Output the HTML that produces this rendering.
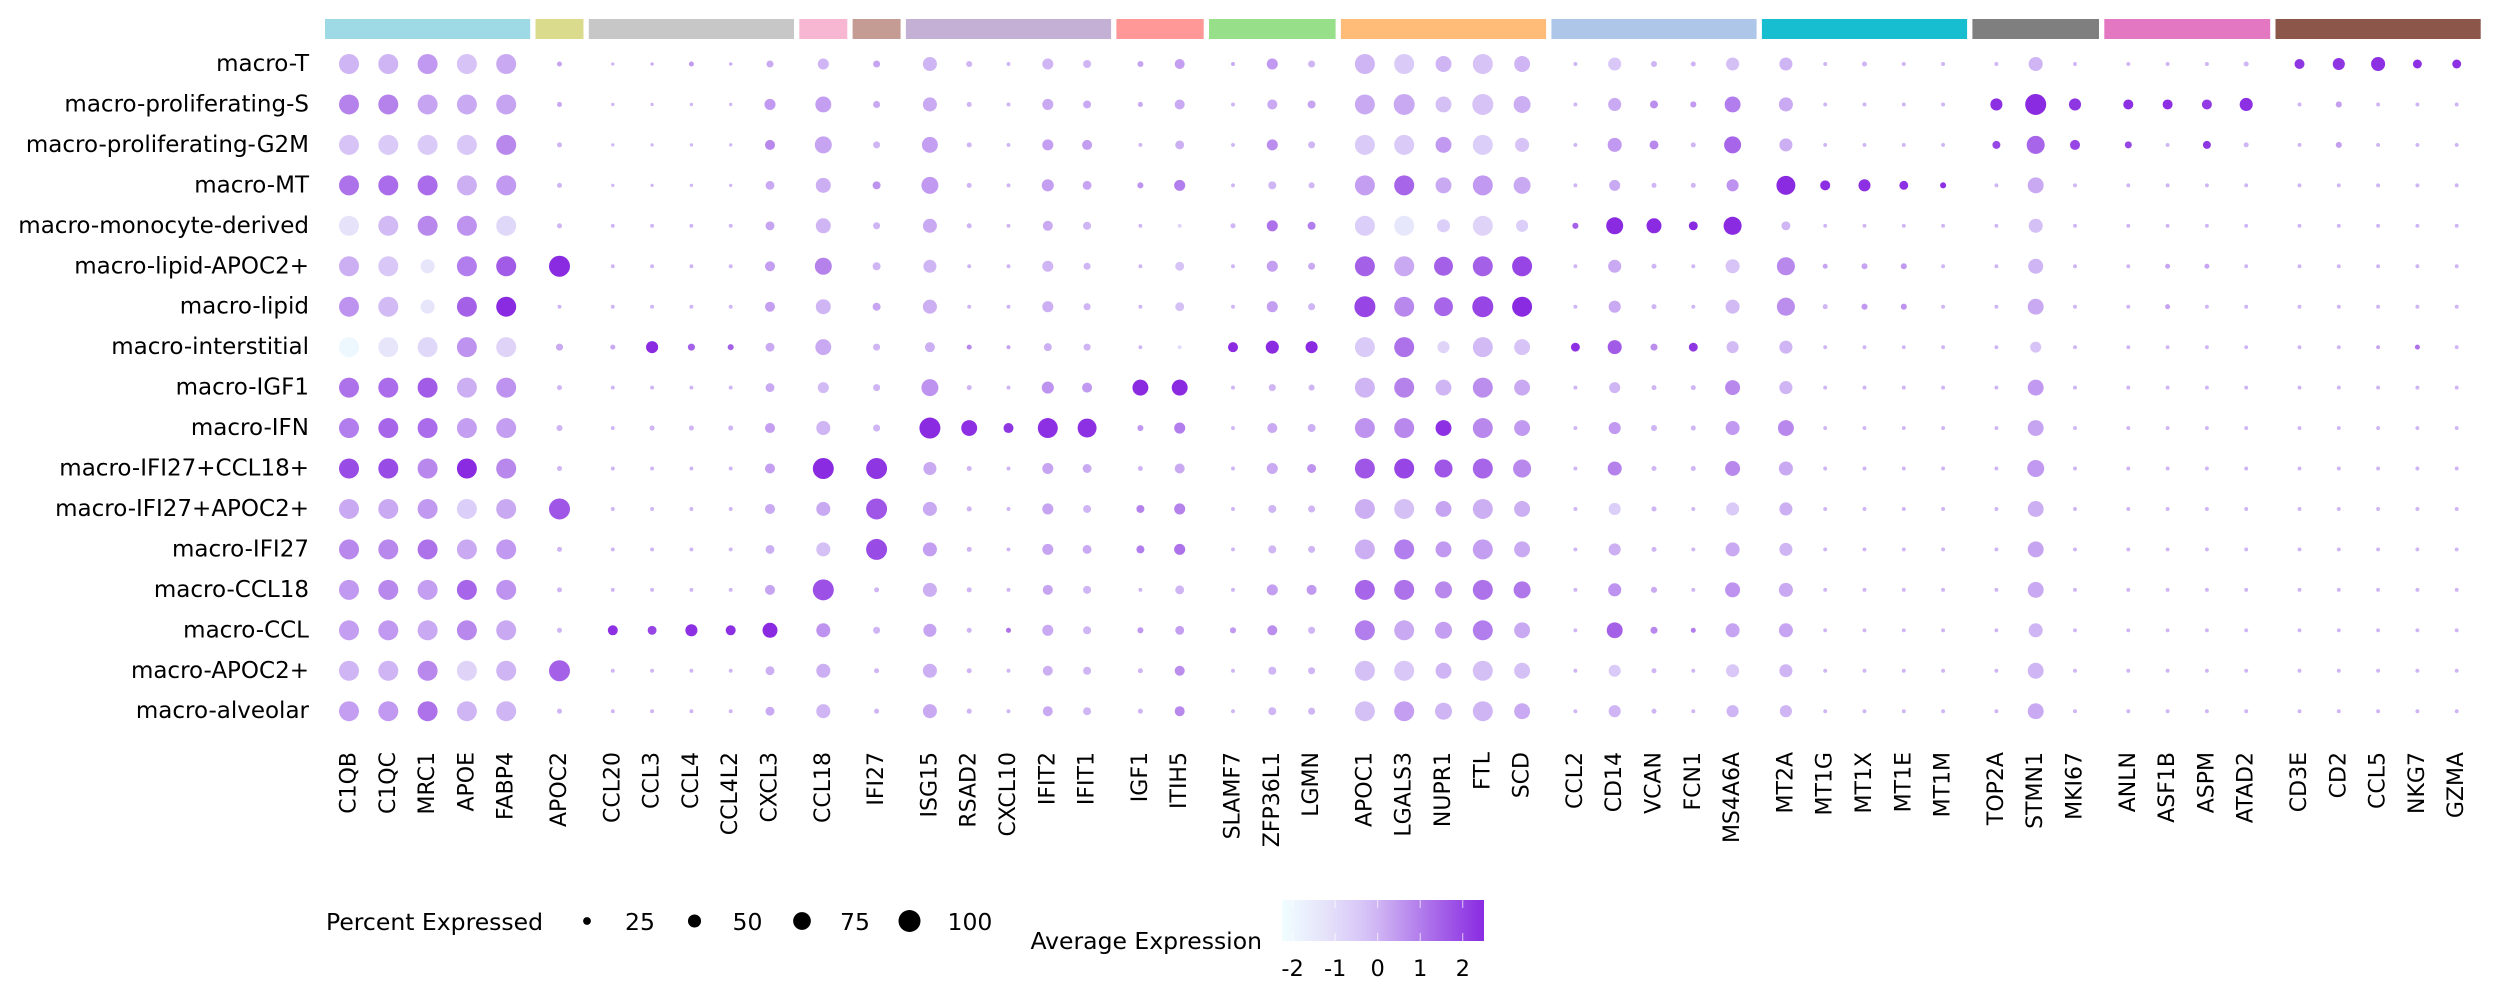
<!DOCTYPE html>
<html><head><meta charset="utf-8"><title>Dot plot</title>
<style>
html,body{margin:0;padding:0;background:#fff;}
svg{display:block;font-family:"DejaVu Sans","Liberation Sans",sans-serif;}
</style></head>
<body>
<svg id="chart" width="2496" height="998" viewBox="0 0 2496 998" xmlns="http://www.w3.org/2000/svg"></svg>
<script>
const rowLabels = ["macro-T","macro-proliferating-S","macro-proliferating-G2M","macro-MT","macro-monocyte-derived","macro-lipid-APOC2+","macro-lipid","macro-interstitial","macro-IGF1","macro-IFN","macro-IFI27+CCL18+","macro-IFI27+APOC2+","macro-IFI27","macro-CCL18","macro-CCL","macro-APOC2+","macro-alveolar"];
const groupGenes = [
 ["C1QB","C1QC","MRC1","APOE","FABP4"],["APOC2"],["CCL20","CCL3","CCL4","CCL4L2","CXCL3"],["CCL18"],["IFI27"],
 ["ISG15","RSAD2","CXCL10","IFIT2","IFIT1"],["IGF1","ITIH5"],["SLAMF7","ZFP36L1","LGMN"],["APOC1","LGALS3","NUPR1","FTL","SCD"],
 ["CCL2","CD14","VCAN","FCN1","MS4A6A"],["MT2A","MT1G","MT1X","MT1E","MT1M"],["TOP2A","STMN1","MKI67"],["ANLN","ASF1B","ASPM","ATAD2"],["CD3E","CD2","CCL5","NKG7","GZMA"]];
const groupColors = ["#9edae5","#dbdb8d","#c7c7c7","#f7b6d2","#c49c94","#c5b0d5","#ff9896","#98df8a","#ffbb78","#aec7e8","#17becf","#7f7f7f","#e377c2","#8c564b"];
const pctValues = [
[88,88,88,88,88,14,8,8,14,8,22,40,22,55,18,10,40,26,18,35,10,40,22,88,88,65,88,65,10,50,18,14,50,50,10,14,10,10,10,55,10,10,10,10,14,35,45,55,30,30],
[88,88,88,88,88,14,8,8,8,8,40,65,22,55,14,10,40,26,14,35,10,35,26,88,94,65,94,71,10,50,26,18,65,55,10,10,10,10,45,94,45,35,35,35,50,10,18,10,10,10],
[88,88,88,88,88,14,8,8,8,8,35,71,22,65,14,10,40,35,10,30,10,40,22,88,88,65,88,55,10,55,30,14,71,50,10,10,10,10,26,77,35,22,10,26,14,10,18,10,10,10],
[88,88,88,88,88,14,8,8,8,8,30,60,26,71,14,10,45,30,18,40,10,26,18,88,88,65,88,71,10,40,14,14,45,82,35,45,30,18,10,65,10,10,10,10,10,10,10,10,10,10],
[88,88,88,88,88,14,10,10,10,10,30,60,22,55,14,10,35,26,10,10,14,40,26,88,88,50,88,45,18,71,60,30,77,30,10,10,10,10,10,55,10,10,10,10,10,10,10,10,10,10],
[88,88,55,88,88,94,10,10,10,10,35,71,26,50,10,10,40,22,10,30,10,40,22,88,88,82,88,88,10,50,14,10,55,77,14,18,18,10,10,60,10,10,14,14,10,10,10,10,10,10],
[88,88,55,88,88,10,10,10,10,10,35,60,26,55,10,10,40,22,10,30,10,40,22,94,88,82,94,88,10,45,14,10,55,77,14,18,18,10,10,65,10,10,14,10,10,10,10,10,10,10],
[88,88,88,88,88,22,14,45,22,18,30,65,22,35,14,10,26,22,10,10,35,50,45,88,88,45,88,65,30,55,22,30,45,50,10,10,10,10,10,40,10,10,10,10,10,10,10,10,14,10],
[88,88,88,88,88,14,10,10,10,10,30,40,22,71,14,10,45,35,65,65,10,22,18,88,88,65,88,65,10,40,14,14,60,50,10,10,10,10,10,65,10,10,10,10,10,10,10,10,10,10],
[88,88,88,88,88,18,10,14,14,14,35,55,22,94,65,35,88,82,18,40,10,35,26,88,88,65,88,65,10,45,18,14,55,65,10,10,10,10,10,65,10,10,10,10,10,10,10,10,10,10],
[88,88,88,88,88,14,10,10,10,10,35,94,94,50,14,10,40,30,14,35,10,40,30,88,88,77,88,77,10,55,14,14,60,55,10,10,10,10,10,71,10,10,10,10,10,10,10,10,10,10],
[88,88,88,88,88,94,10,10,10,10,35,55,94,55,14,10,40,26,26,40,10,26,22,88,88,65,88,65,10,45,14,10,50,50,10,10,10,10,10,65,10,10,10,10,10,10,10,10,10,10],
[88,88,88,88,88,14,10,10,10,10,30,55,94,55,14,10,40,30,26,40,10,26,22,88,88,65,88,65,10,45,14,10,55,50,10,10,10,10,10,65,10,10,10,10,10,10,10,10,10,10],
[88,88,88,88,88,14,10,10,10,10,35,94,14,55,14,10,35,26,10,30,10,40,35,88,88,71,88,71,10,50,18,10,60,55,10,10,10,10,10,65,10,10,10,10,10,10,10,10,10,10],
[88,88,88,88,88,14,35,30,45,35,60,55,22,50,14,14,40,26,18,30,18,35,22,88,88,71,88,65,10,65,22,14,55,55,10,10,10,10,10,55,10,10,10,10,10,10,10,10,10,10],
[88,88,88,88,88,94,10,10,10,10,30,55,14,55,14,10,35,26,14,35,10,26,22,88,88,65,88,65,10,45,14,10,50,50,10,10,10,10,10,65,10,10,10,10,10,10,10,10,10,10],
[88,88,88,88,88,14,10,10,10,10,30,55,14,55,14,10,35,26,14,35,10,26,22,88,88,71,88,65,10,45,14,10,45,45,10,10,10,10,10,65,10,10,10,10,10,10,10,10,10,10]];
const exprValues = [
[0,0,0.5,-0.3,0.2,0.3,0,0.2,0.5,0.2,0.2,0,0.3,0,0,0,0,0,0.3,0.4,0.2,0.5,0,0,-0.5,0,-0.3,0,0,-0.4,0,0,-0.2,0,0,0,0,0,0,0,0,0,0,0,0,2.3,2.3,2.4,2.4,2.4],
[0.9,0.9,0.3,0.2,0.3,0.2,0,0,0,0,0.5,0.4,0.2,0.2,0,0,0.2,0.2,0.2,0.2,0,0.2,0.3,0.2,0.2,-0.2,-0.3,0.1,0,0.2,0.7,0.5,1.0,0.2,0,0,0,0,2.4,2.5,2.3,2.4,2.4,2.2,2.4,0,0.4,0,0,0],
[-0.3,-0.5,-0.5,-0.4,0.8,0,0,0,0,0,0.8,0.3,0,0.4,0,0,0.4,0.4,0,0.1,0,0.7,0,-0.5,-0.5,0.5,-0.6,-0.3,0,0.5,0.8,0,1.4,0.1,0,0,0,0,2.0,1.4,2.0,2.0,0,2.3,0,0,0.4,0,0,0],
[1.2,1.3,1.3,0.1,0.5,0,0,0,0,0,0.2,0.1,0.6,0.5,0,0,0.4,0.3,0.6,1.0,0,0,0,0.4,1.4,0.2,0.5,0.2,0,0.2,0,0,0.6,2.5,2.4,2.4,2.4,2.4,0,0.2,0,0,0,0,0,0,0,0,0,0],
[-1.2,-0.1,0.8,0.6,-0.9,0,0,0,0,0,0.3,0,0,0.2,0,0,0.2,0,0,-0.8,0,1.2,1.0,-0.6,-1.4,-0.6,-0.8,-0.6,1.5,2.5,2.5,2.5,2.5,0,0,0,0,0,0,-0.2,0,0,0,0,0,0,0,0,0,0],
[0.1,-0.4,-1.3,1.0,1.6,2.5,0,0,0,0,0.4,0.9,0,0,0,0,0,0,0,-0.3,0,0.4,0.2,1.5,0.2,1.5,1.5,2.0,0,0.2,0,0,-0.3,0.8,0.3,0.3,0.5,0,0,0,0,0,0.3,0.3,0,0,0,0,0,0],
[0.6,-0.1,-1.3,1.5,2.5,0,0,0,0,0,0.4,0,0.3,0.1,0,0,0.1,0,0,-0.2,0,0.4,0,2.0,0.8,1.4,2.0,2.5,0,0.2,0,0,-0.1,0.7,0,0.5,0.6,0,0,0.2,0,0,0.3,0,0,0,0,0,0,0],
[-2.0,-1.3,-0.9,0.6,-0.8,0.2,0.2,2.5,1.5,1.5,0.2,0.2,0,0.1,0.8,0.4,0.1,0,0,-1.0,2.5,2.5,2.5,-0.5,1.2,-0.8,-0.1,-0.3,2.4,1.6,0.7,2.3,-0.1,0,0,0,0,0,0,-0.3,0,0,0,0,0,0,0,0.3,1.2,0],
[1.2,1.3,1.6,0.1,0.6,0,0,0,0,0,0.2,-0.1,0,0.6,0,0,0.6,0.5,2.5,2.5,0,0,0,0,0.9,0,0.7,0.2,0,0,0,0,0.8,0,0,0,0,0,0,0.5,0,0,0,0,0,0,0,0,0,0],
[1.0,1.4,1.3,0.4,0.4,0,0,0,0,0,0.4,0,0,2.5,2.4,2.3,2.4,2.4,0.5,1.0,0,0.2,0.1,0.6,0.8,2.4,0.8,0.5,0,0.5,0,0,0.5,0.8,0,0,0,0,0,0.3,0,0,0,0,0,0,0,0,0,0],
[1.9,1.9,0.8,2.5,0.8,0,0,0,0,0,0.4,2.5,2.3,0.2,0,0,0.3,0.2,0,0.2,0,0.2,0.6,1.7,2.0,1.7,1.4,0.8,0,0.9,0,0,0.8,0.2,0,0,0,0,0,0.5,0,0,0,0,0,0,0,0,0,0],
[0.2,0.2,0.5,-0.6,0.2,1.7,0,0,0,0,0.2,0.2,1.7,0.2,0,0,0.3,0,0.9,0.9,0,0,0,0.1,-0.2,0.3,0.1,0.1,0,-0.6,0,0,-0.5,0.1,0,0,0,0,0,0.1,0,0,0,0,0,0,0,0,0,0],
[0.8,0.8,1.2,0.2,0.5,0,0,0,0,0,0.1,-0.2,1.9,0.4,0,0,0.3,0.2,1.0,1.2,0,0,0,0.1,1.0,0.5,0.4,0.2,0,0.1,0,0,0.2,0,0,0,0,0,0,0.3,0,0,0,0,0,0,0,0,0,0],
[0.5,0.8,0.4,1.4,0.6,0,0,0,0,0,0.3,1.8,0,0.1,0,0,0.3,0,0,0,0,0.4,0.5,1.4,1.2,0.8,1.2,1.1,0,0.6,0.2,0,0.6,0.2,0,0,0,0,0,0.2,0,0,0,0,0,0,0,0,0,0],
[0.4,0.5,0.2,0.8,0.2,0,2.4,2.0,2.4,2.4,2.5,0.6,0,0.3,0,1.2,0.2,0,0.5,0.4,0.5,0.7,0,1.0,0.2,0.4,1.0,0.2,0,1.5,0.8,1.0,0.3,0.3,0,0,0,0,0,0,0,0,0,0,0,0,0,0,0,0],
[0,0,0.8,-0.8,0,1.5,0,0,0,0,0.1,0.1,0,0.1,0,0,0.1,0,0,0.7,0,0,0,-0.2,-0.4,0,-0.2,-0.2,0,-0.5,0,0,-0.4,0,0,0,0,0,0,0,0,0,0,0,0,0,0,0,0,0],
[0.4,0.5,1.2,0,0,0,0,0,0,0,0.2,0,0,0.2,0,0,0.2,0,0,0.8,0,0,0,-0.2,0.4,0,0,0.2,0,0,0,0,0,0,0,0,0,0,0,0.2,0,0,0,0,0,0,0,0,0,0]];
const legendPcts = [25,50,75,100];
const cbarTicks = [-2,-1,0,1,2];

const NS = "http://www.w3.org/2000/svg";
const svg = document.getElementById("chart");
function mk(tag, attrs, parent) {
  const e = document.createElementNS(NS, tag);
  for (const k in attrs) e.setAttribute(k, attrs[k]);
  (parent || svg).appendChild(e);
  return e;
}
const X0 = 349, STEP = 39.3, GAP = 14, Y0 = 64, ROWSTEP = 40.45, DMAX = 22;
const colX = [], genes = [];
let ci = 0;
groupGenes.forEach((g, gi) => g.forEach(name => { colX.push(X0 + ci * STEP + gi * GAP); genes.push(name); ci++; }));
function xScale(i) { return colX[i]; }
function yScale(r) { return Y0 + r * ROWSTEP; }
function rScale(p) { return DMAX / 2 * Math.pow(p / 100, 0.75); }
const stops = [[-2.25,[240,254,255]],[-1.2,[229,226,250]],[-0.2,[213,192,246]],[0.8,[184,136,237]],[1.8,[156,80,230]],[2.5,[138,43,226]]];
function cScale(v) {
  if (v <= stops[0][0]) return rgb(stops[0][1]);
  for (let i = 1; i < stops.length; i++) {
    if (v <= stops[i][0]) {
      const t = (v - stops[i-1][0]) / (stops[i][0] - stops[i-1][0]);
      const a = stops[i-1][1], b = stops[i][1];
      return rgb([0,1,2].map(k => a[k] + (b[k] - a[k]) * t));
    }
  }
  return rgb(stops[stops.length-1][1]);
}
function rgb(c) { return "rgb(" + c.map(Math.round).join(",") + ")"; }

let start = 0;
groupGenes.forEach((g, gi) => {
  const x1 = xScale(start) - 24, x2 = xScale(start + g.length - 1) + 24;
  const r = mk("rect", {x: x1, y: 19, width: x2 - x1, height: 20, fill: groupColors[gi]});
  
  
  start += g.length;
});
rowLabels.forEach((lab, r) => {
  const t = mk("text", {x: 309, y: yScale(r), "text-anchor": "end", "dominant-baseline": "central", "font-size": 23, fill: "#000"});
  t.textContent = lab;
  
  
});
genes.forEach((g, i) => {
  const x = xScale(i);
  const t = mk("text", {x: x, y: 752, transform: "rotate(-90 " + x + " 752)", "text-anchor": "end", "dominant-baseline": "central", "font-size": 22, fill: "#000"});
  t.textContent = g;
  
  
});
pctValues.forEach((row, r) => row.forEach((p, c) => {
  const d = mk("circle", {cx: xScale(c), cy: yScale(r), r: rScale(p), fill: cScale(exprValues[r][c])});
  
  
}));
const lt = mk("text", {x: 326, y: 922, "dominant-baseline": "central", "font-size": 23.5, fill: "#000"});
lt.textContent = "Percent Expressed";


legendPcts.forEach((p, i) => {
  const cx = 587 + i * 107.5;
  const d = mk("circle", {cx: cx, cy: 921, r: rScale(p), fill: "#000"});
  
  
  const t = mk("text", {x: cx + 38, y: 922, "dominant-baseline": "central", "font-size": 23.5, fill: "#000"});
  t.textContent = p;
  
  
});
const CB0 = 1282, CB1 = 1484, VMIN = -2.25, VMAX = 2.5;
function cbX(v) { return CB0 + (v - VMIN) / (VMAX - VMIN) * (CB1 - CB0); }
const defs = mk("defs", {});
const grad = mk("linearGradient", {id: "cg", x1: "0", x2: "1", y1: "0", y2: "0"}, defs);
for (let i = 0; i <= 20; i++) {
  const v = VMIN + (VMAX - VMIN) * i / 20;
  mk("stop", {offset: (i / 20), "stop-color": cScale(v)}, grad);
}
const cb = mk("rect", {x: CB0, y: 900, width: CB1 - CB0, height: 41, fill: "url(#cg)"});


cbarTicks.forEach(v => {
  const x = cbX(v);
  mk("line", {x1: x, x2: x, y1: 900, y2: 908, stroke: "#fff", "stroke-width": 1, "stroke-opacity": 0.7});
  mk("line", {x1: x, x2: x, y1: 933, y2: 941, stroke: "#fff", "stroke-width": 1, "stroke-opacity": 0.7});
  const t = mk("text", {x: x, y: 969, "text-anchor": "middle", "dominant-baseline": "central", "font-size": 22.5, fill: "#000"});
  t.textContent = v;
  
  
});
const ct = mk("text", {x: 1262, y: 941, "text-anchor": "end", "dominant-baseline": "central", "font-size": 23.5, fill: "#000"});
ct.textContent = "Average Expression";


</script>
</body></html>
